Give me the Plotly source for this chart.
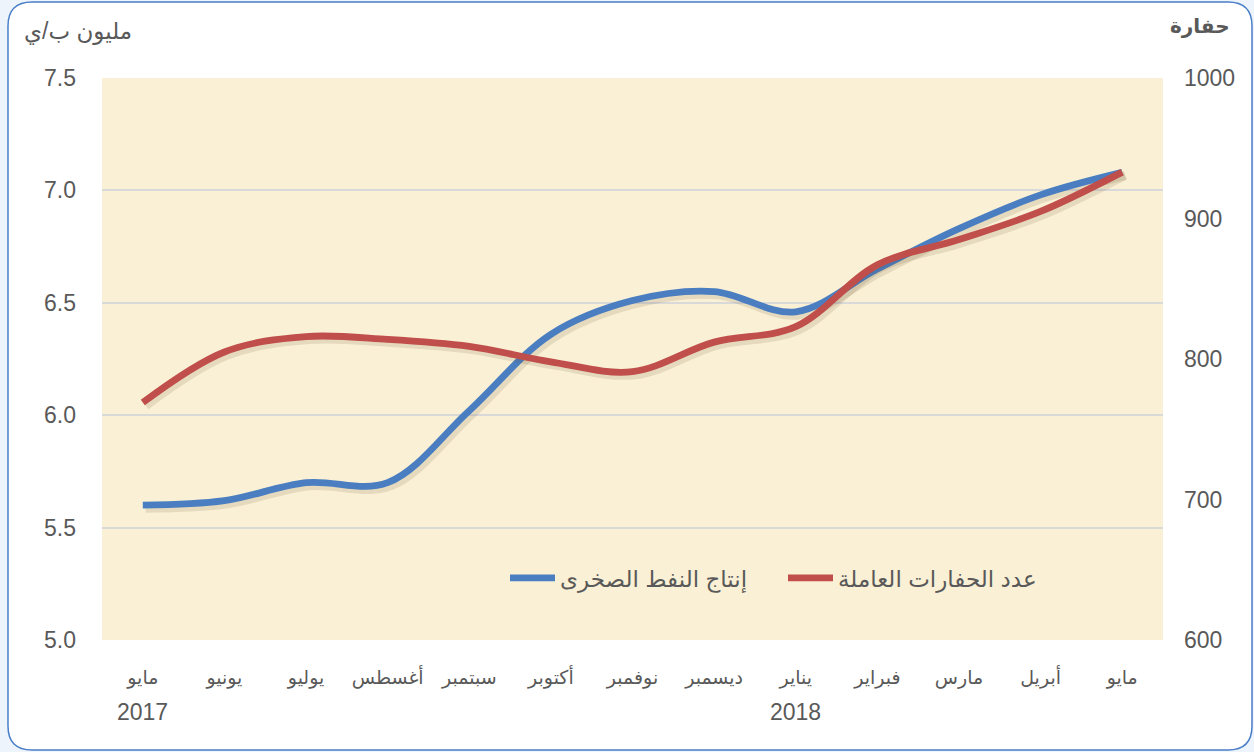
import plotly.graph_objects as go

months = ["مايو", "يونيو", "يوليو", "أغسطس", "سبتمبر", "أكتوبر", "نوفمبر",
          "ديسمبر", "يناير", "فبراير", "مارس", "أبريل", "مايو"]
years = {0: "2017", 8: "2018"}
shale_output = [5.60, 5.62, 5.70, 5.70, 6.02, 6.36, 6.51, 6.55, 6.46, 6.65, 6.83, 6.98, 7.08]
rig_count = [769, 805, 816, 814, 809, 798, 791, 812, 823, 867, 885, 905, 933]
name_blue = "إنتاج النفط الصخرى"
name_red = "عدد الحفارات العاملة"

W, H = 1254, 752
L, R, T, B = 102, 91, 78, 112
pw, ph = W - L - R, H - T - B

def px(x):
    return (x - L) / pw

def py(y):
    return (H - B - y) / ph

x = list(range(len(months)))
FONT = "Liberation Sans, Arial, DejaVu Sans, sans-serif"
GREY = "#595959"

fig = go.Figure()
# soft shadows
fig.add_trace(go.Scatter(x=[v + 0.035 for v in x], y=[v - 0.014 for v in shale_output],
                         mode="lines", line=dict(color="rgba(90,70,30,0.13)", width=9, shape="spline", smoothing=1),
                         showlegend=False, hoverinfo="skip"))
fig.add_trace(go.Scatter(x=[v + 0.035 for v in x], y=[v - 2.2 for v in rig_count], yaxis="y2",
                         mode="lines", line=dict(color="rgba(90,70,30,0.13)", width=9, shape="spline", smoothing=1),
                         showlegend=False, hoverinfo="skip"))
fig.add_trace(go.Scatter(x=x, y=shale_output, name=name_blue, mode="lines",
                         line=dict(color="#4A7EC1", width=6.8, shape="spline", smoothing=1)))
fig.add_trace(go.Scatter(x=x, y=rig_count, name=name_red, mode="lines", yaxis="y2",
                         line=dict(color="#C04E4B", width=6.8, shape="spline", smoothing=1)))

# frame
x0, x1, y0, y1, r = 8, 1252, 2, 750, 24
def P(a, b):
    return f"{px(a):.5f},{py(b):.5f}"
path = (f"M {P(x0 + r, y0)} L {P(x1 - r, y0)} Q {P(x1, y0)} {P(x1, y0 + r)} "
        f"L {P(x1, y1 - r)} Q {P(x1, y1)} {P(x1 - r, y1)} L {P(x0 + r, y1)} "
        f"Q {P(x0, y1)} {P(x0, y1 - r)} L {P(x0, y0 + r)} Q {P(x0, y0)} {P(x0 + r, y0)} Z")
shapes = [
    dict(type="path", xref="paper", yref="paper", path=path, fillcolor="white",
         line=dict(color="#4A7EC8", width=1.5), layer="below"),
    dict(type="rect", xref="paper", yref="paper", x0=0, x1=1, y0=0, y1=1,
         fillcolor="#FAF0D5", line=dict(width=0), layer="below"),
]

annotations = [
    dict(text="مليون ب/ي", x=px(78), y=py(32), xref="paper", yref="paper", showarrow=False,
         font=dict(size=23, color=GREY, family=FONT), xanchor="center", yanchor="middle"),
    dict(text="<b>حفارة</b>", x=px(1200), y=py(27), xref="paper", yref="paper", showarrow=False,
         font=dict(size=20, color=GREY, family=FONT), xanchor="center", yanchor="middle"),
]
for i, yr in years.items():
    annotations.append(dict(text=yr, x=i, y=py(712), xref="x", yref="paper", showarrow=False,
                            font=dict(size=23, color=GREY, family=FONT), xanchor="center", yanchor="middle"))

fig.update_layout(
    width=W, height=H,
    margin=dict(l=L, r=R, t=T, b=B, autoexpand=False),
    paper_bgcolor="#EDF4FB",
    plot_bgcolor="rgba(0,0,0,0)",
    shapes=shapes,
    annotations=annotations,
    font=dict(family=FONT, color=GREY),
    xaxis=dict(range=[-0.5, 12.5], tickmode="array", tickvals=x, ticktext=months,
               showgrid=False, zeroline=False, showline=False, ticks="", automargin=False,
               tickfont=dict(size=19, color=GREY, family=FONT), ticklabelstandoff=24),
    yaxis=dict(range=[5.0, 7.5], dtick=0.5, tickformat=".1f", showgrid=True, automargin=False,
               gridcolor="#D9D9D9", gridwidth=2, zeroline=False, showline=False, ticks="",
               tickfont=dict(size=23, color=GREY, family=FONT), ticklabelstandoff=25),
    yaxis2=dict(range=[600, 1000], dtick=100, overlaying="y", side="right", showgrid=False,
                zeroline=False, showline=False, ticks="", automargin=False,
                tickfont=dict(size=23, color=GREY, family=FONT), ticklabelstandoff=20),
    legend=dict(orientation="h", x=px(505), y=py(578), xanchor="left", yanchor="middle",
                bgcolor="rgba(0,0,0,0)", font=dict(size=23, color=GREY, family=FONT),
                itemwidth=45, entrywidth=218, entrywidthmode="pixels", traceorder="normal"),
    showlegend=True,
)

fig.write_html("out.html", config={"displayModeBar": False},
               post_script="document.body.style.margin='0';")
